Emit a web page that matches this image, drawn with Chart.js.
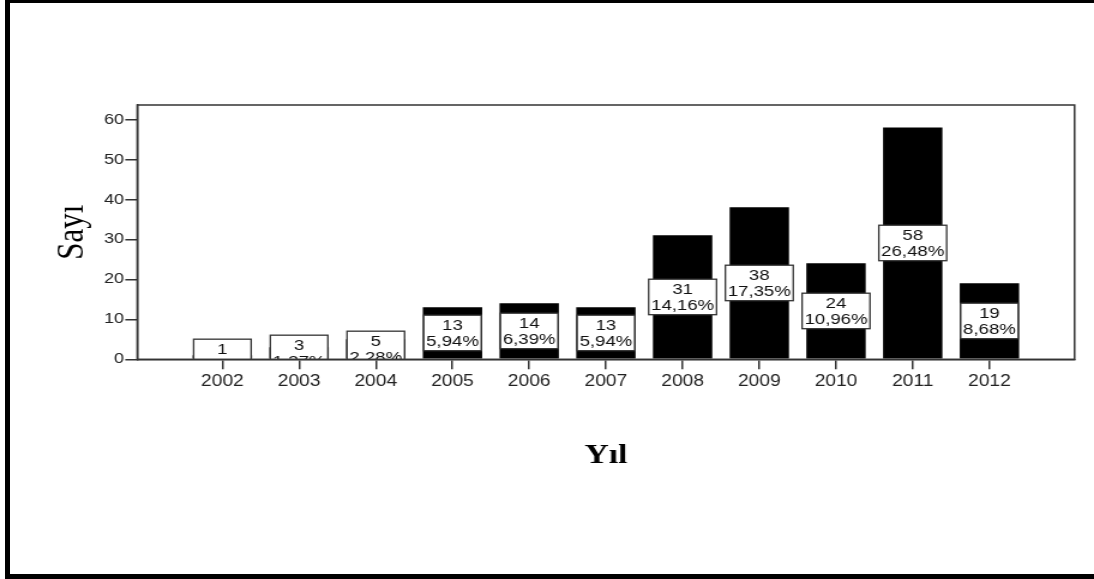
<!DOCTYPE html>
<html lang="tr">
<head>
<meta charset="utf-8">
<title>Yıl - Sayı</title>
<script src="https://cdn.jsdelivr.net/npm/chart.js@4.4.1/dist/chart.umd.min.js"></script>
<style>
  html, body { margin: 0; padding: 0; background: #fff; overflow: hidden; }
  #stage { position: relative; width: 1094px; height: 579px; overflow: hidden; }
  /* the drawing is made on a narrower canvas and widened, giving the wide SPSS-style lettering */
  #chart { position: absolute; left: 0; top: 0; }
  #frame {
    position: absolute; left: 5px; top: 0; width: 1089px; height: 579px;
    box-sizing: border-box;
    border-left: 5px solid #000; border-top: 3px solid #000;
    border-bottom: 5px solid #000;
    pointer-events: none;
  }
</style>
</head>
<body>
<div id="stage">
  <canvas id="chart" width="912" height="579" style="width:1094px;height:579px"></canvas>
  <div id="frame"></div>
</div>
<script>
// Yayın sayıları, yıllara göre
const years  = [2002, 2003, 2004, 2005, 2006, 2007, 2008, 2009, 2010, 2011, 2012];
const counts = [1, 3, 5, 13, 14, 13, 31, 38, 24, 58, 19];
const yTicks = [0, 10, 20, 30, 40, 50, 60];

const total = counts.reduce((s, v) => s + v, 0);
const pct = v => (v * 100 / total).toFixed(2).replace('.', ',') + '%';

const SANS = "'Liberation Sans', Arial, sans-serif";
const SERIF = "'Liberation Serif', 'Times New Roman', serif";
Chart.defaults.font.family = SANS;
Chart.defaults.color = '#222';

// white count / percent boxes centred on each bar, clipped to the plot
const boxLabels = {
  id: 'boxLabels',
  afterDatasetsDraw(chart) {
    const { ctx, chartArea: a } = chart;
    const meta = chart.getDatasetMeta(0);
    ctx.save();
    ctx.beginPath();
    ctx.rect(a.left, a.top, a.right - a.left, a.bottom - a.top);
    ctx.clip();
    ctx.font = '15.5px ' + SANS;
    ctx.textAlign = 'center';
    ctx.textBaseline = 'middle';
    meta.data.forEach((bar, i) => {
      const lines = [String(counts[i]), pct(counts[i])];
      const w = Math.max(...lines.map(t => ctx.measureText(t).width)) + 4;
      const h = 35.5;
      const top = (bar.y + bar.base) / 2 - h / 2;
      ctx.fillStyle = '#fff';
      ctx.fillRect(bar.x - w / 2, top, w, h);
      ctx.strokeStyle = '#333';
      ctx.lineWidth = 1.3;
      ctx.strokeRect(bar.x - w / 2, top, w, h);
      ctx.fillStyle = '#111';
      ctx.fillText(lines[0], bar.x, top + 10.5);
      ctx.fillText(lines[1], bar.x, top + 26.5);
    });
    ctx.restore();
  }
};

// closed box around the plot area
const plotFrame = {
  id: 'plotFrame',
  afterDraw(chart) {
    const { ctx, chartArea: a } = chart;
    ctx.save();
    ctx.strokeStyle = '#333';
    ctx.lineWidth = 1.5;
    ctx.strokeRect(a.left, a.top, a.right - a.left, a.bottom - a.top);
    ctx.restore();
  }
};

new Chart(document.getElementById('chart'), {
  type: 'bar',
  data: {
    datasets: [{
      label: 'Sayı',
      data: years.map((yr, i) => ({ x: yr, y: counts[i] })),
      backgroundColor: '#000',
      borderWidth: 0,
      barPercentage: 0.774,
      categoryPercentage: 1
    }]
  },
  options: {
    responsive: false,
    devicePixelRatio: 1,
    animation: false,
    events: [],
    layout: { padding: { left: 0, top: 105, right: 16.2, bottom: 89.7 } },
    plugins: { legend: { display: false }, tooltip: { enabled: false } },
    scales: {
      x: {
        type: 'linear',
        min: 2000.89,
        max: 2013.11,
        offset: false,
        grid: { offset: false, drawOnChartArea: false, drawTicks: true, tickLength: 10, color: '#333', lineWidth: 1.5 },
        border: { display: true, color: '#333', width: 1.5 },
        afterBuildTicks: axis => { axis.ticks = years.map(v => ({ value: v })); },
        afterFit: axis => { axis.height = 130; },
        ticks: {
          autoSkip: false, maxRotation: 0, padding: 3,
          font: { size: 16 }, color: '#222',
          callback: v => String(v)
        },
        title: {
          display: true, text: 'Yıl', color: '#000',
          font: { family: SERIF, size: 28, weight: 'bold' },
          padding: { top: 0, bottom: 16.5 }
        }
      },
      y: {
        min: 0,
        max: 63.6,
        grid: { drawOnChartArea: false, drawTicks: true, tickLength: 10, color: '#333', lineWidth: 1.5 },
        border: { display: true, color: '#333', width: 1.5 },
        afterBuildTicks: axis => { axis.ticks = yTicks.map(v => ({ value: v })); },
        afterFit: axis => { axis.width = 114.4; },
        ticks: { padding: 1, font: { size: 15 }, color: '#222' },
        title: {
          display: true, text: 'Sayı', color: '#000',
          font: { family: SERIF, size: 31, weight: 'normal' },
          padding: { top: 42, bottom: 0 }
        }
      }
    }
  },
  plugins: [boxLabels, plotFrame]
});
</script>
</body>
</html>
